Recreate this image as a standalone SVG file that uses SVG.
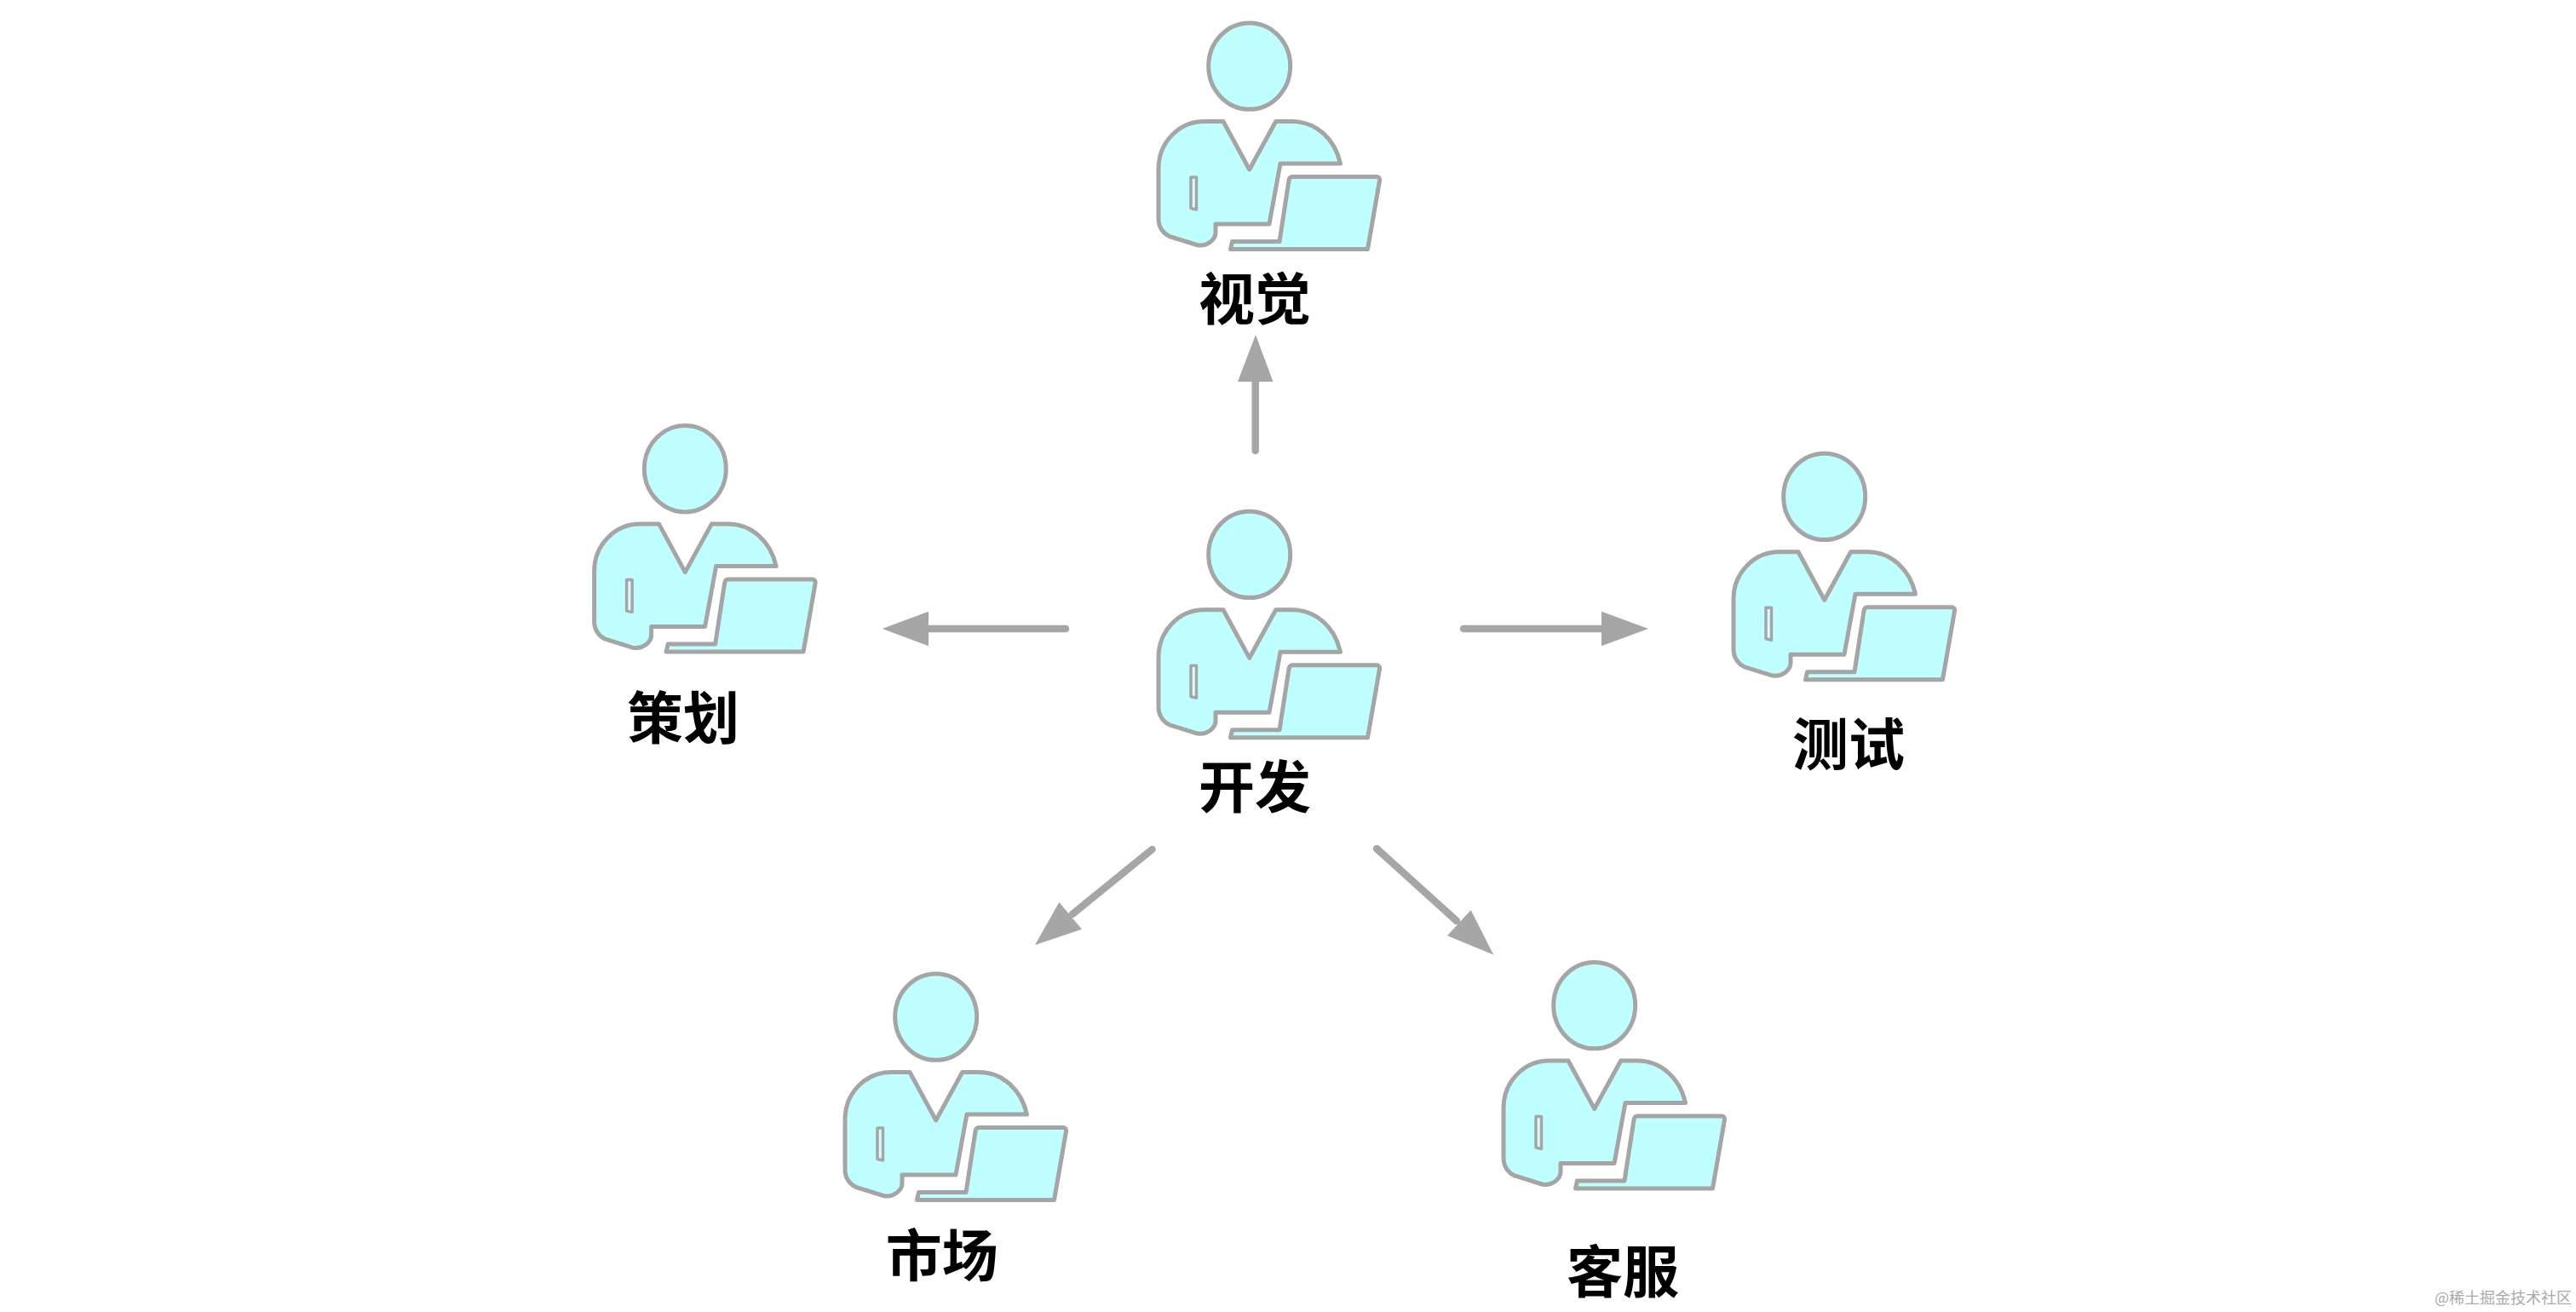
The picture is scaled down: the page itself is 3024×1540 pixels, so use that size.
<svg xmlns="http://www.w3.org/2000/svg" xmlns:xlink="http://www.w3.org/1999/xlink" width="3024" height="1540" viewBox="0 0 3024 1540">
<style>
.p{fill:#bfffff;stroke:#a5a5a5;stroke-width:5;stroke-linejoin:round}
.r{fill:#d8ffff;stroke:#a5a5a5;stroke-width:3.500;stroke-linejoin:round}
.l{font-family:"Noto Sans CJK SC",sans-serif;font-weight:700;font-size:66px;fill:#000;text-anchor:middle}
.s{stroke:#a6a6a6;stroke-width:8.500;stroke-linecap:round;fill:none}
.h{fill:#a6a6a6}
.w{font-family:"Noto Sans CJK SC",sans-serif;font-size:18px;fill:#aaa}
</style>
<defs>
<g id="person">
<ellipse class="p" cx="126.700" cy="77.600" rx="48" ry="50.700"/>
<path class="p" d="M96 142.500L126.700 199L157.700 142.500H177C205 142.500 227 163 233.500 192H163L150 263H87V273C87 281 77 290 65 287.500L33 277.500C26 274.500 20 267 20 257V198C20 167 44 142.500 74 142.500Z"/>
<path class="r" d="M58 208H64.500V246L58 244.500Z"/>
<path class="p" d="M177 207.500H276C278.500 207.500 280 209.500 279.500 212L265.500 292.500H104.500L106.500 283.500H162L173 212C173.500 209 175 207.500 177 207.500Z"/>
</g>
</defs>
<rect width="3024" height="1540" fill="#fff"/>
<g id="connectors">
<path class="s" d="M1473.700 529V444"/><path class="h" d="M1474 393L1494.500 448H1453Z"/>
<path class="s" d="M1251 738H1085"/><path class="h" d="M1035.700 738L1090 717.700V758.300Z"/>
<path class="s" d="M1718 738H1885"/><path class="h" d="M1935 738L1880 717.700V758.300Z"/>
<path class="s" d="M1352.500 997L1259 1073"/><path class="h" d="M1215 1109.300L1243.300 1059L1270 1090.700Z"/>
<path class="s" d="M1616 996L1710 1081"/><path class="h" d="M1753.300 1120.700L1726.700 1068.300L1699 1098.300Z"/>
</g>
<g id="node-vis"><use xlink:href="#person" href="#person" transform="translate(1340 0)"/><text class="l" x="1473" y="375">视觉</text></g>
<g id="node-dev"><use xlink:href="#person" href="#person" transform="translate(1340 573.300)"/><text class="l" x="1473" y="948">开发</text></g>
<g id="node-plan"><use xlink:href="#person" href="#person" transform="translate(677.600 472.600)"/><text class="l" x="802" y="867">策划</text></g>
<g id="node-test"><use xlink:href="#person" href="#person" transform="translate(2015 505.300)"/><text class="l" x="2170" y="898">测试</text></g>
<g id="node-market"><use xlink:href="#person" href="#person" transform="translate(972 1116)"/><text class="l" x="1105.700" y="1498">市场</text></g>
<g id="node-service"><use xlink:href="#person" href="#person" transform="translate(1745 1102.500)"/><text class="l" x="1905" y="1517">客服</text></g>
<text class="w" x="2858" y="1530">@稀土掘金技术社区</text>
</svg>
